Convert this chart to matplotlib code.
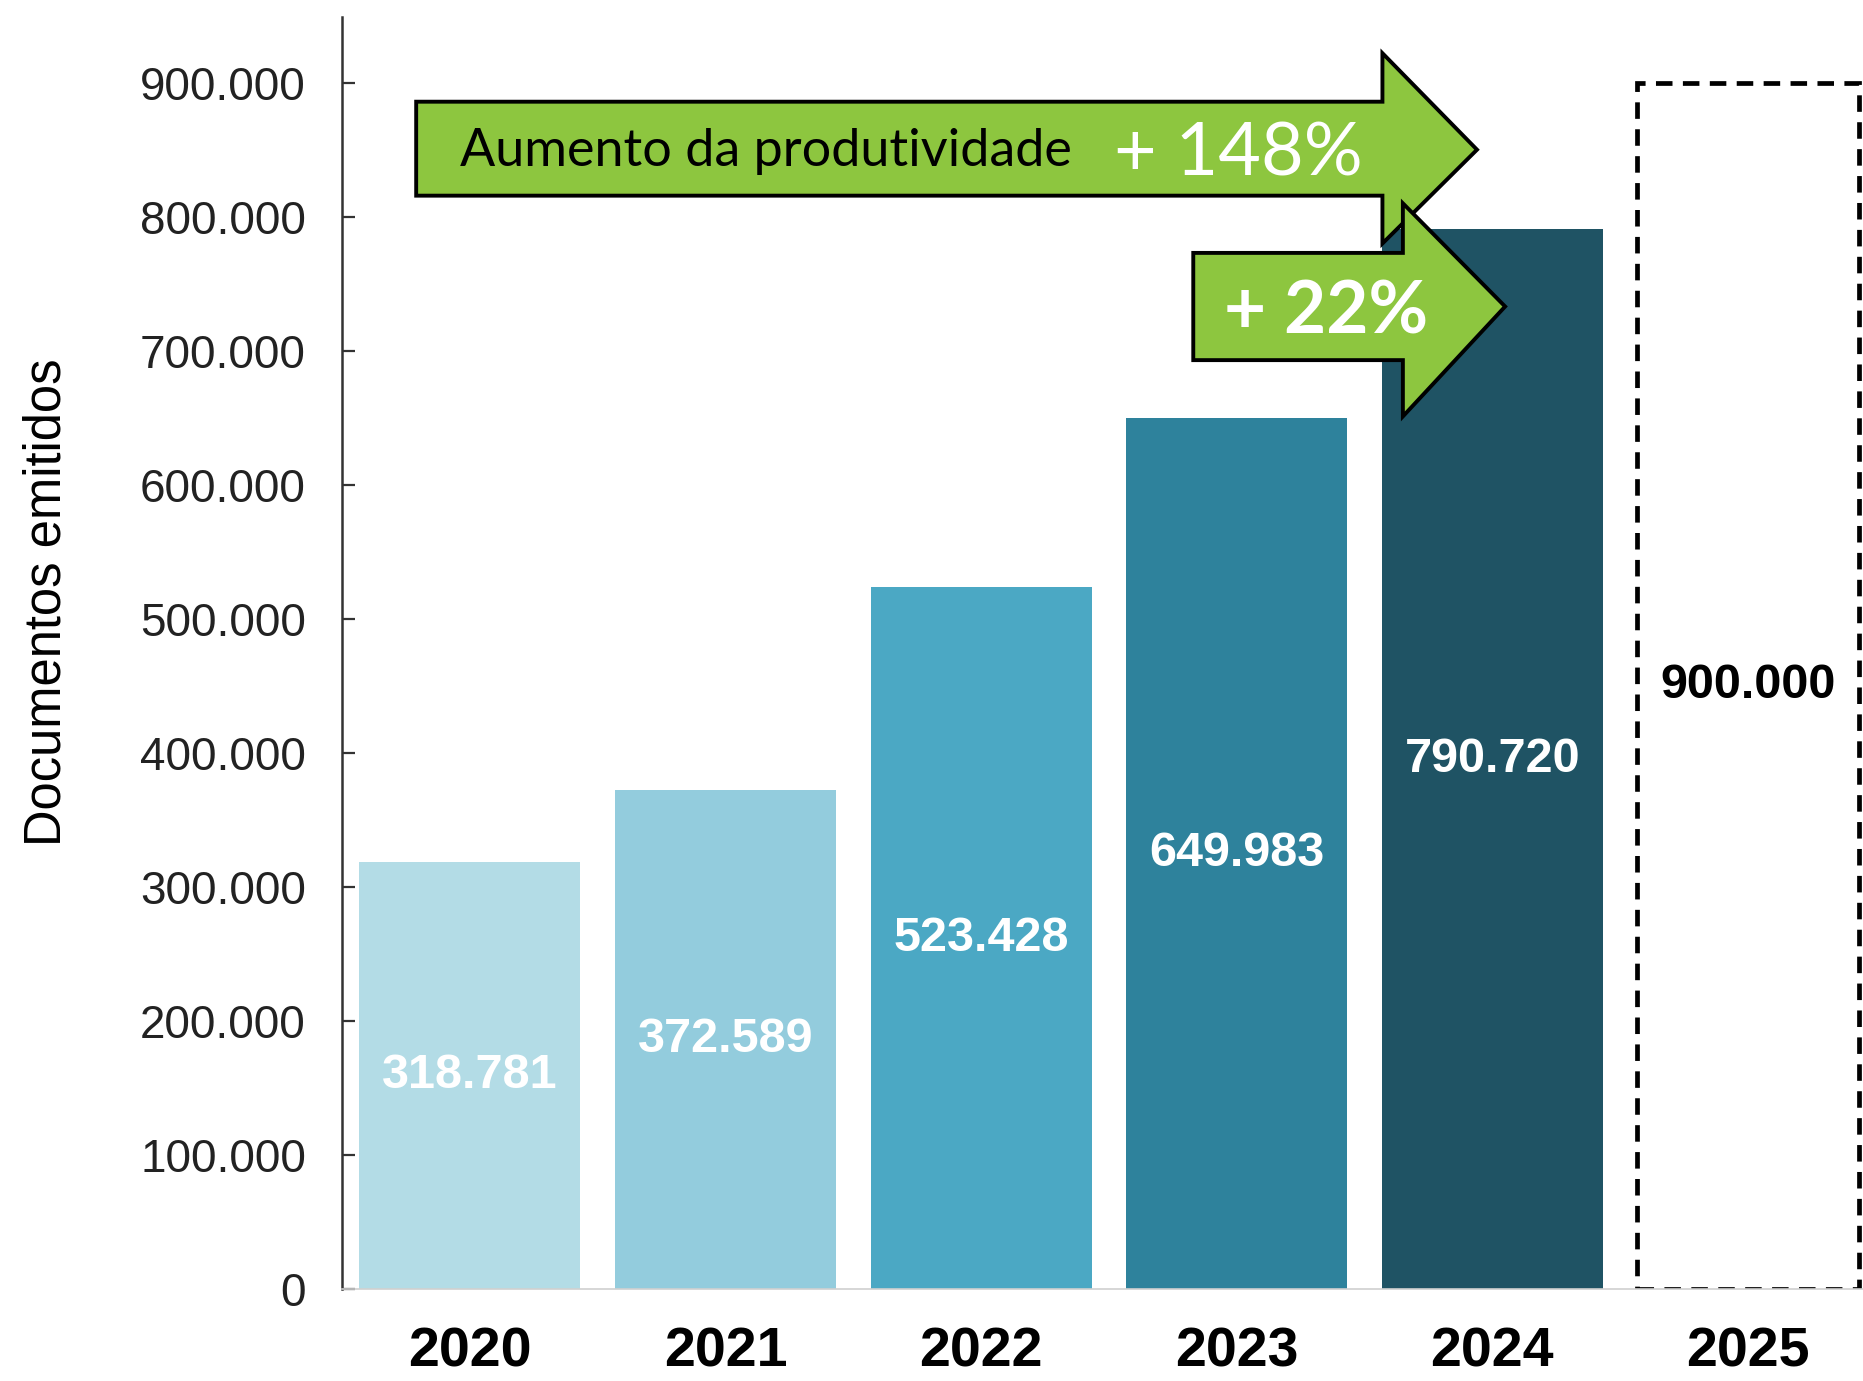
import matplotlib
matplotlib.use("Agg")
import matplotlib.pyplot as plt
from matplotlib.patches import Polygon
from matplotlib.ticker import FuncFormatter

# Data
years = ["2020", "2021", "2022", "2023", "2024", "2025"]
docs = [318781, 372589, 523428, 649983, 790720]
target_2025 = 900000
bar_colors = ["#B3DCE6", "#93CCDD", "#4BA8C4", "#2E829C", "#1F5364"]
yticks = [0, 100000, 200000, 300000, 400000, 500000, 600000, 700000, 800000, 900000]


def fmt_pt(v):
    return f"{int(v):,}".replace(",", ".")


plt.rcParams["font.family"] = ["Liberation Sans", "DejaVu Sans"]

fig = plt.figure(figsize=(18.63, 13.81), dpi=100)
ax = fig.add_axes([0.1836, 0.0666, 0.8164, 0.9211])

x = list(range(len(docs)))
ax.bar(x, docs, width=0.865, color=bar_colors, zorder=2)
ax.bar(5, target_2025, width=0.865, fill=False, edgecolor="black",
       linewidth=3.4, linestyle=(0, (3.5, 2.2)), zorder=2)

for xi, v in zip(x, docs):
    ax.text(xi, v / 2, fmt_pt(v), ha="center", va="center", color="white",
            fontsize=35, fontweight="bold", zorder=3)
ax.text(5, target_2025 / 2, fmt_pt(target_2025), ha="center", va="center",
        color="black", fontsize=35, fontweight="bold", zorder=3)

ax.set_xlim(-0.5, 5.45)
ax.set_ylim(0, 949000)
ax.set_xticks(range(len(years)))
ax.set_xticklabels(years, fontsize=40, fontweight="bold")
ax.set_yticks(yticks)
ax.yaxis.set_major_formatter(FuncFormatter(lambda v, p: fmt_pt(v)))
ax.tick_params(axis="y", direction="in", length=9, width=1.6, colors="#333333",
               labelsize=33, labelcolor="#222222", pad=26)
ax.tick_params(axis="x", length=0, pad=27)
ax.set_ylabel("Documentos emitidos", fontsize=36.5)
ax.yaxis.set_label_coords(-0.178, 0.54)

for s in ["top", "right"]:
    ax.spines[s].set_visible(False)
ax.spines["left"].set_linewidth(1.8)
ax.spines["left"].set_color("#333333")
ax.spines["bottom"].set_color("#D0D0D0")
ax.spines["bottom"].set_linewidth(1.2)

# growth arrows (data coordinates)
green = "#8DC63F"
arrow1 = [(-0.21, 815700), (3.57, 815700), (3.57, 780000), (3.94, 850000),
          (3.57, 922000), (3.57, 885800), (-0.21, 885800)]
arrow2 = [(2.83, 693000), (3.65, 693000), (3.65, 651000), (4.05, 733000),
          (3.65, 810000), (3.65, 773000), (2.83, 773000)]
ax.add_patch(Polygon(arrow1, closed=True, facecolor=green, edgecolor="black",
                     linewidth=2.8, joinstyle="miter", zorder=4, clip_on=False))
ax.add_patch(Polygon(arrow2, closed=True, facecolor=green, edgecolor="black",
                     linewidth=2.8, joinstyle="miter", zorder=5, clip_on=False))

ax.text(-0.04, 849000, "Aumento da produtividade", ha="left", va="center",
        fontsize=37.5, color="black", family=["Lato", "DejaVu Sans"], zorder=6)
ax.text(2.52, 846000, "+ 148%", ha="left", va="center",
        fontsize=53, color="white", family=["Lato", "DejaVu Sans"], zorder=6)
ax.text(2.95, 728000, "+ 22%", ha="left", va="center", fontweight="bold",
        fontsize=52.5, color="white", family=["Lato", "DejaVu Sans"], zorder=6)

fig.savefig("out.png", dpi=100)
